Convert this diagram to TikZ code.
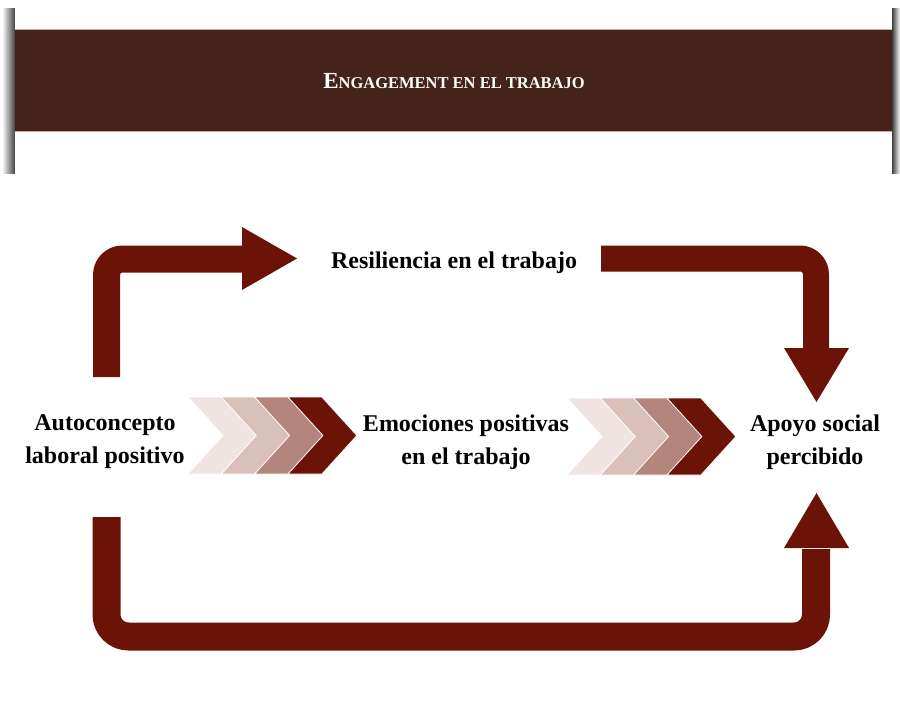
\documentclass[tikz,border=0pt]{standalone}
\usepackage{fontspec}
\usetikzlibrary{fadings}
\setmainfont{Liberation Serif}
\definecolor{headc}{HTML}{45221A}
\definecolor{arrowc}{HTML}{6B1306}
\definecolor{cA}{HTML}{F0E4E2}
\definecolor{cB}{HTML}{D9C0BA}
\definecolor{cC}{HTML}{B3857C}
\definecolor{cD}{HTML}{6B1306}
\definecolor{edgec}{HTML}{C9A9A0}
\begin{document}
\begin{tikzpicture}[x=1pt,y=-1pt,
  lbl/.style={font=\fontsize{24}{33}\selectfont\bfseries, align=center, text=black},
  shaft/.style={draw=arrowc, line cap=butt, line join=round},
  headfill/.style={fill=arrowc},
  chevfill/.style={draw=white, line width=0.8pt, line join=miter}]
\useasboundingbox (0,0) rectangle (900,707);
\fill[white] (0,0) rectangle (900,707);
% shadows of the header
\fill[black!75, path fading=west] (2,8) rectangle (15,174);
\fill[black!75, path fading=east] (892,8) rectangle (900,174);
% header band
\fill[headc] (15,29) rectangle (892,131);
\draw[edgec, line width=0.8pt] (15,29) -- (892,29);
\draw[edgec, line width=0.8pt] (15,131) -- (892,131);
\node[text=white, font=\bfseries] (title) at (454,81)
  {{\fontsize{23}{23}\selectfont E}{\fontsize{16.5}{16.5}\selectfont NGAGEMENT EN EL TRABAJO}};
% labels
\node[lbl] (res) at (454,263) {Resiliencia en el trabajo};
\node[lbl] (auto) at (105,442) {Autoconcepto\\laboral positivo};
\node[lbl] (emo) at (466,442) {Emociones positivas\\en el trabajo};
\node[lbl] (apo) at (815,442) {Apoyo social\\percibido};
% chevrons
\foreach \gx/\gy in {188/435.5, 567/436.5}{
  \foreach \i/\c in {0/cA,1/cB,2/cC,3/cD}{
    \pgfmathsetmacro{\xa}{\gx+33.3*\i}
    \fill[\c, chevfill] (\xa,\gy-38.5) -- ++(34,0) -- ++(35,38.5) -- ++(-35,38.5) -- ++(-34,0) -- ++(35,-38.5) -- cycle;
  }
}
% top-left arrow
\coordinate (tlA) at (106.5,377);
\coordinate (tlB) at (243,259);
\draw[shaft, line width=27pt, rounded corners=16pt] (tlA) |- (tlB);
\fill[headfill] (242,227) -- (297,258.5) -- (242,290) -- cycle;
% top-right arrow
\coordinate (trA) at (601,258.5);
\coordinate (trB) at (816,349);
\draw[shaft, line width=26pt, rounded corners=16pt] (trA) -| (trB);
\fill[headfill] (784,348) -- (849,348) -- (816.5,402) -- cycle;
% bottom arrow
\coordinate (bA) at (106.5,517);
\coordinate (bB) at (816,549);
\draw[shaft, line width=28pt, rounded corners=22pt] (bA) -- (106.5,636.5) -- (816,636.5) -- (bB);
\fill[headfill] (784,548) -- (849,548) -- (816.5,493) -- cycle;
\end{tikzpicture}
\end{document}
